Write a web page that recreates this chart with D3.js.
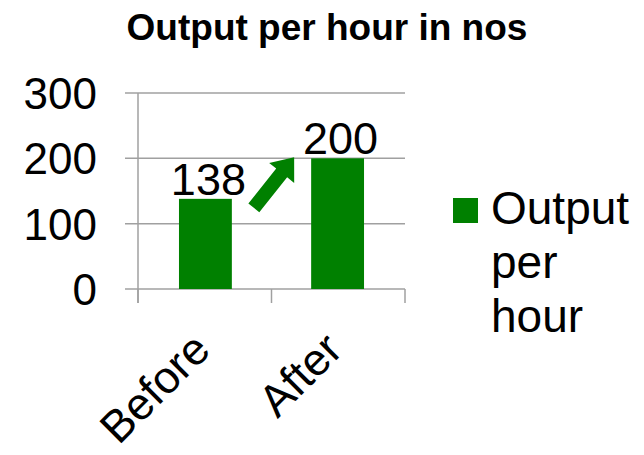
<!DOCTYPE html>
<html>
<head>
<meta charset="utf-8">
<script src="https://cdn.jsdelivr.net/npm/d3@7.9.0/dist/d3.min.js"></script>
<style>
  body { margin: 0; background: #fff; }
  text { font-family: "Liberation Sans", Arial, sans-serif; fill: #000; }
</style>
</head>
<body>
<svg></svg>
<script>
const categories = ["Before", "After"];
const values = [138, 200];
const yTicks = [0, 100, 200, 300];
const seriesName = ["Output", "per", "hour"];
const title = "Output per hour in nos";

const width = 644, height = 455;
const green = "#008000";
const gridColor = "#a0a0a0";

const svg = d3.select("svg")
    .attr("width", width)
    .attr("height", height);

const x = d3.scaleBand()
    .domain(categories)
    .range([138, 405])
    .paddingInner(0.6)
    .paddingOuter(0.31);

const y = d3.scaleLinear()
    .domain([0, 300])
    .range([289, 93]);

// title
svg.append("text")
    .attr("x", 327)
    .attr("y", 40)
    .attr("text-anchor", "middle")
    .style("font-size", "37px")
    .style("font-weight", "bold")
    .text(title);

// gridlines
svg.selectAll(".grid")
    .data(yTicks)
    .enter().append("line")
    .attr("x1", 125)
    .attr("x2", 405)
    .attr("y1", d => y(d))
    .attr("y2", d => y(d))
    .attr("stroke", gridColor)
    .attr("stroke-width", 1.5);

// y axis line
svg.append("line")
    .attr("x1", 138).attr("x2", 138)
    .attr("y1", y(300)).attr("y2", 303)
    .attr("stroke", gridColor).attr("stroke-width", 1.5);

// category ticks at band edges
const bandEdges = [138, 138 + (405 - 138) / categories.length, 405];
svg.selectAll(".xtick")
    .data(bandEdges)
    .enter().append("line")
    .attr("x1", d => d).attr("x2", d => d)
    .attr("y1", y(0)).attr("y2", 303)
    .attr("stroke", gridColor).attr("stroke-width", 1.5);

// y tick labels
svg.selectAll(".ylab")
    .data(yTicks)
    .enter().append("text")
    .attr("x", 97)
    .attr("y", d => y(d) + 16)
    .attr("text-anchor", "end")
    .style("font-size", "44px")
    .text(d => d);

// bars
svg.selectAll(".bar")
    .data(values)
    .enter().append("rect")
    .attr("x", (d, i) => x(categories[i]))
    .attr("width", x.bandwidth())
    .attr("y", d => y(d))
    .attr("height", d => y(0) - y(d))
    .attr("fill", green);

// value labels
svg.selectAll(".vlab")
    .data(values)
    .enter().append("text")
    .attr("x", (d, i) => x(categories[i]) + x.bandwidth() / 2 + 3)
    .attr("y", d => y(d) - 4)
    .attr("text-anchor", "middle")
    .style("font-size", "45px")
    .text(d => d);

// category labels, rotated
svg.selectAll(".xlab")
    .data(categories)
    .enter().append("text")
    .attr("transform", d => `translate(${x(d) + x.bandwidth() / 2 + 7},352) rotate(-45)`)
    .attr("text-anchor", "end")
    .style("font-size", "45px")
    .text(d => d);

// block arrow from the first bar towards the second
const tail = [x(categories[0]) + x.bandwidth() + 22, y(values[0]) + 9];
const tip = [x(categories[1]) - 17, y(values[1]) - 1];
const len = Math.hypot(tip[0] - tail[0], tip[1] - tail[1]);
const u = [(tip[0] - tail[0]) / len, (tip[1] - tail[1]) / len];
const n = [-u[1], u[0]];
const sw = 7, hw = 16, hl = 20;
const base = [tip[0] - hl * u[0], tip[1] - hl * u[1]];
const pt = (p, k) => [p[0] + k * n[0], p[1] + k * n[1]];
const arrow = [
    pt(tail, -sw), pt(tail, sw), pt(base, sw), pt(base, hw),
    tip, pt(base, -hw), pt(base, -sw)
];
svg.append("path")
    .attr("d", d3.line()(arrow) + "Z")
    .attr("fill", green);

// legend
svg.append("rect")
    .attr("x", 453).attr("y", 198)
    .attr("width", 25).attr("height", 25)
    .attr("fill", green);

svg.append("g").selectAll("text")
    .data(seriesName)
    .enter().append("text")
    .attr("x", 491)
    .attr("y", (d, i) => 224 + i * 54)
    .style("font-size", "46px")
    .text(d => d);
</script>
</body>
</html>
